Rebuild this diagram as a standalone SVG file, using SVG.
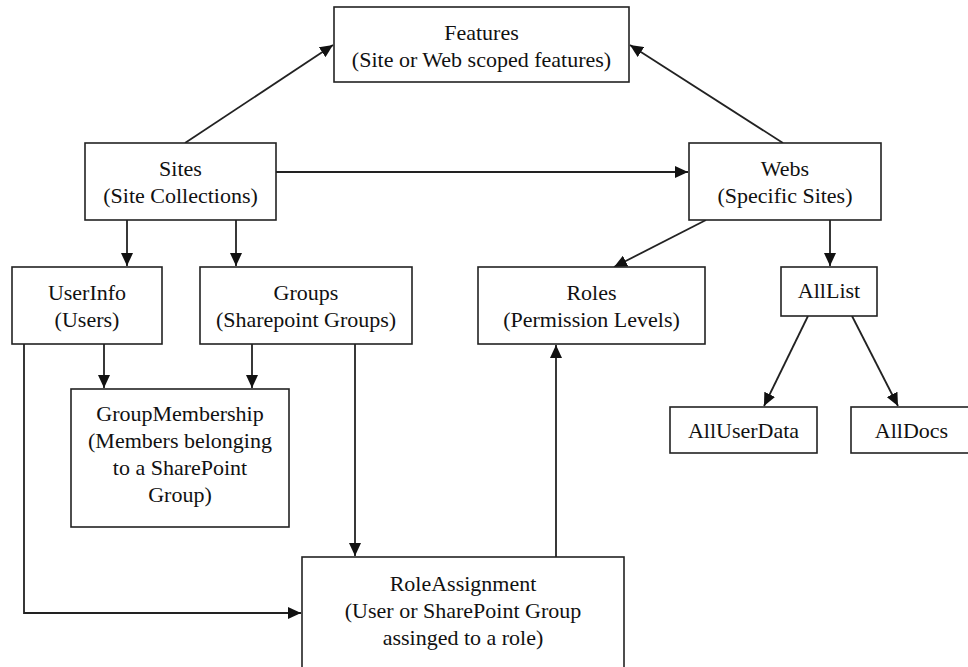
<svg xmlns="http://www.w3.org/2000/svg" width="968" height="667" viewBox="0 0 968 667">
<style>
.box{fill:#fff;stroke:#222;stroke-width:1.6}
.t{font-family:'Liberation Serif','Times New Roman',Times,'DejaVu Serif',serif;font-size:22px;fill:#111;text-anchor:middle}
.c{fill:none;stroke:#222;stroke-width:1.8}
</style>
<defs>
<marker id="ah" markerUnits="userSpaceOnUse" markerWidth="14" markerHeight="12" refX="13" refY="6" orient="auto">
<path d="M0,0 L13,6 L0,12 Z" fill="#111"/>
</marker>
</defs>
<rect width="968" height="667" fill="#fff"/>
<g id="connectors">
<line class="c" x1="185" y1="143" x2="333" y2="45" marker-end="url(#ah)"/>
<line class="c" x1="783" y1="143" x2="630" y2="45" marker-end="url(#ah)"/>
<line class="c" x1="276" y1="172" x2="688" y2="172" marker-end="url(#ah)"/>
<line class="c" x1="127" y1="220" x2="127" y2="266" marker-end="url(#ah)"/>
<line class="c" x1="236" y1="220" x2="236" y2="266" marker-end="url(#ah)"/>
<line class="c" x1="706" y1="220" x2="614" y2="267" marker-end="url(#ah)"/>
<line class="c" x1="830" y1="220" x2="830" y2="266" marker-end="url(#ah)"/>
<line class="c" x1="808" y1="316" x2="764" y2="406" marker-end="url(#ah)"/>
<line class="c" x1="852" y1="316" x2="898" y2="406" marker-end="url(#ah)"/>
<line class="c" x1="104" y1="344" x2="104" y2="388" marker-end="url(#ah)"/>
<line class="c" x1="252" y1="344" x2="252" y2="388" marker-end="url(#ah)"/>
<line class="c" x1="355" y1="344" x2="355" y2="556" marker-end="url(#ah)"/>
<polyline class="c" points="24,344 24,613 301,613" marker-end="url(#ah)"/>
<line class="c" x1="556" y1="557" x2="556" y2="345" marker-end="url(#ah)"/>
</g>
<g id="features">
<rect class="box" x="334" y="7" width="295" height="75"/>
<text class="t" x="481.5" y="40">Features</text>
<text class="t" x="481.5" y="67">(Site or Web scoped features)</text>
</g>
<g id="sites">
<rect class="box" x="85" y="143" width="191" height="77"/>
<text class="t" x="180.5" y="176">Sites</text>
<text class="t" x="180.5" y="203">(Site Collections)</text>
</g>
<g id="webs">
<rect class="box" x="689" y="143" width="192" height="77"/>
<text class="t" x="785" y="176">Webs</text>
<text class="t" x="785" y="203">(Specific Sites)</text>
</g>
<g id="userinfo">
<rect class="box" x="12" y="267" width="150" height="77"/>
<text class="t" x="87" y="300">UserInfo</text>
<text class="t" x="87" y="327">(Users)</text>
</g>
<g id="groups">
<rect class="box" x="200" y="267" width="212" height="77"/>
<text class="t" x="306" y="300">Groups</text>
<text class="t" x="306" y="327">(Sharepoint Groups)</text>
</g>
<g id="roles">
<rect class="box" x="478" y="267" width="227" height="77"/>
<text class="t" x="591.5" y="300">Roles</text>
<text class="t" x="591.5" y="327">(Permission Levels)</text>
</g>
<g id="alllist">
<rect class="box" x="781" y="267" width="96" height="49"/>
<text class="t" x="829" y="298">AllList</text>
</g>
<g id="alluserdata">
<rect class="box" x="670" y="407" width="147" height="46"/>
<text class="t" x="743.5" y="438">AllUserData</text>
</g>
<g id="alldocs">
<rect class="box" x="851" y="407" width="122" height="46"/>
<text class="t" x="911.5" y="438">AllDocs</text>
</g>
<g id="groupmembership">
<rect class="box" x="71" y="389" width="218" height="138"/>
<text class="t" x="180" y="421">GroupMembership</text>
<text class="t" x="180" y="448">(Members belonging</text>
<text class="t" x="180" y="475">to a SharePoint</text>
<text class="t" x="180" y="502">Group)</text>
</g>
<g id="roleassignment">
<rect class="box" x="302" y="557" width="322" height="120"/>
<text class="t" x="463" y="591">RoleAssignment</text>
<text class="t" x="463" y="618">(User or SharePoint Group</text>
<text class="t" x="463" y="645">assinged to a role)</text>
</g>
</svg>
